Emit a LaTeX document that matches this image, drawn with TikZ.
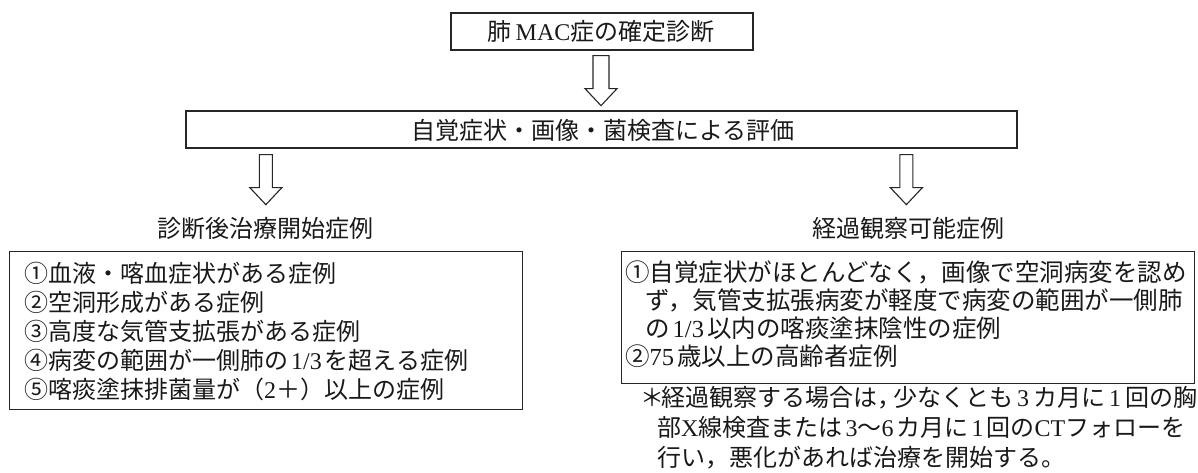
\documentclass[tikz,border=0pt]{standalone}
\usepackage{fontspec}
\setmainfont{Liberation Serif}
\newfontfamily\jp{Noto Sans CJK JP}
\newfontfamily\lt{Liberation Serif}
\usetikzlibrary{calc}
\newcommand\thsp{\hspace{3pt}}
\begin{document}
\begin{tikzpicture}[x=1pt,y=-1pt,
  box/.style={draw=black!85, line width=1.3pt, inner sep=0pt},
  txt/.style={inner sep=0pt, font=\jp\fontsize{24}{29}\selectfont, text=black!90},
  txtb/.style={inner sep=0pt, font=\jp\fontsize{24.5}{29}\selectfont, text=black!90},
  barrow/.style={draw=black!85, line width=1.1pt, fill=white, line join=miter},
  pics/blockarrow/.style={code={\draw[barrow] (-#1,0) -- (-#1,33) -- (-16,33) -- (0,50) -- (16,33) -- (#1,33) -- (#1,0) -- cycle;}}
]
\useasboundingbox (0,0) rectangle (1198,472);

% top box
\node[box, minimum width=302pt, minimum height=37pt] (diag) at (602,31.5) {};
\node[txt, anchor=base] (diagt) at (601,40.5) {肺\,{\lt MAC}症の確定診断};

% evaluation box
\node[box, minimum width=831pt, minimum height=37pt] (eval) at (601.5,129.5) {};
\node[txt, anchor=base] (evalt) at (603,139) {自覚症状・画像・菌検査による評価};

% arrows
\coordinate (a1) at ($(diag.south)+(-1,5)$);
\pic at (a1) {blockarrow=8};
\coordinate (a2) at ($(eval.south west)+(80.5,6)$);
\pic at (a2) {blockarrow=6.5};
\coordinate (a3) at ($(eval.south west)+(721,6)$);
\pic at (a3) {blockarrow=6.5};

% labels
\node[txt, anchor=base] (lstart) at (265,237) {診断後治療開始症例};
\node[txt, anchor=base] (rwatch) at (908,237) {経過観察可能症例};

% left box
\node[box, minimum width=513pt, minimum height=158pt, anchor=north west] (lbox) at (9,251) {};
\node[txt, anchor=base west] (l1) at (24,282) {①血液・喀血症状がある症例};
\node[txt, anchor=base west] (l2) at (24,311) {②空洞形成がある症例};
\node[txt, anchor=base west] (l3) at (24,340) {③高度な気管支拡張がある症例};
\node[txt, anchor=base west] (l4) at (24,369) {④病変の範囲が一側肺の\thsp{\lt 1/3}\thsp を超える症例};
\node[txt, anchor=base west] (l5) at (24,398) {⑤喀痰塗抹排菌量が（{\lt 2}＋）以上の症例};

% right box
\node[box, minimum width=573pt, minimum height=132pt, anchor=north west] (rbox) at (621,251) {};
\node[txtb, anchor=base west] (r1) at (625,281) {①自覚症状がほとんどなく，画像で空洞病変を認め};
\node[txtb, anchor=base west] (r2) at (645,309) {ず，気管支拡張病変が軽度で病変の範囲が一側肺};
\node[txtb, anchor=base west] (r3) at (645,337) {の\thsp{\lt 1/3}\thsp 以内の喀痰塗抹陰性の症例};
\node[txtb, anchor=base west] (r4) at (625,365) {②{\lt 75}\thsp 歳以上の高齢者症例};

% note
\node[txt, anchor=base west] (n1) at (640,406) {\makebox[21pt][l]{＊}経過観察する場合は\makebox[16pt][l]{，}少なくとも\hspace{4pt}{\lt 3}\hspace{4pt}カ月に\hspace{4pt}{\lt 1}\hspace{4pt}回の胸};
\node[txt, anchor=base west] (n2) at (657,436) {部{\lt X}線検査または\thsp{\lt 3}～{\lt 6}\thsp カ月に\thsp{\lt 1}\thsp 回の{\lt CT}フォローを};
\node[txt, anchor=base west] (n3) at (657,466) {行い，悪化があれば治療を開始する。};
\end{tikzpicture}
\end{document}
